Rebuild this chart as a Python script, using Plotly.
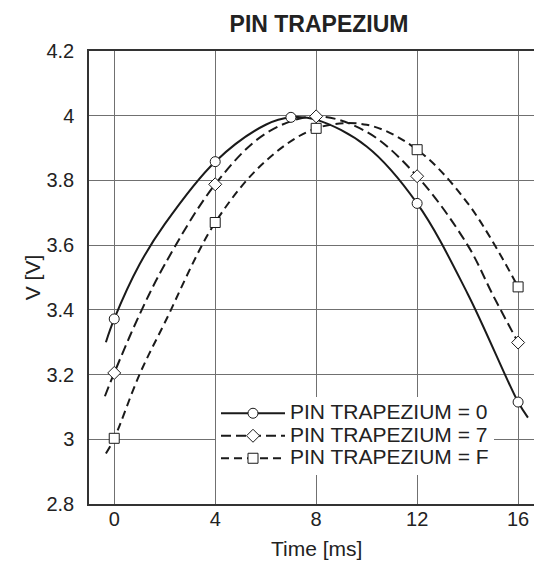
import plotly.graph_objects as go

# Measured points (markers)
pt_x0 = [0, 4, 7, 12, 16]
pt_y0 = [3.372, 3.858, 3.995, 3.729, 3.115]
pt_x7 = [0, 4, 8, 12, 16]
pt_y7 = [3.205, 3.788, 3.998, 3.813, 3.299]
pt_xF = [0, 4, 8, 12, 16]
pt_yF = [3.003, 3.670, 3.961, 3.895, 3.471]

# Curve points
cv_x0 = [-0.33, 0, 1, 2, 4, 6, 7, 8, 10, 12, 14, 16, 16.39]
cv_y0 = [3.300, 3.372, 3.540, 3.665, 3.858, 3.972, 3.995, 3.988, 3.905, 3.729, 3.450, 3.115, 3.067]
cv_x7 = [-0.37, 0, 1, 2, 4, 6, 8, 10, 12, 14, 15, 16]
cv_y7 = [3.133, 3.205, 3.385, 3.540, 3.788, 3.945, 3.998, 3.950, 3.813, 3.600, 3.446, 3.299]
cv_xF = [-0.33, 0, 1, 2, 4, 6, 8, 10, 12, 14, 16]
cv_yF = [2.956, 3.003, 3.200, 3.360, 3.670, 3.860, 3.961, 3.972, 3.895, 3.730, 3.471]

names = ["PIN TRAPEZIUM = 0", "PIN TRAPEZIUM = 7", "PIN TRAPEZIUM = F"]
symbols = ["circle", "diamond", "square"]
dashes = ["solid", "10px,5px", "8px,5px"]

x_ticks = [0, 4, 8, 12, 16]
y_ticks = [2.8, 3, 3.2, 3.4, 3.6, 3.8, 4, 4.2]
y_tick_text = ["2.8", "3", "3.2", "3.4", "3.6", "3.8", "4", "4.2"]

LINE_C = "#1a1a1a"
GRID_C = "#707070"
FONT = "Liberation Sans, Arial, sans-serif"

fig = go.Figure()

curves = [(cv_x0, cv_y0), (cv_x7, cv_y7), (cv_xF, cv_yF)]
points = [(pt_x0, pt_y0), (pt_x7, pt_y7), (pt_xF, pt_yF)]

for (cx, cy), dash in zip(curves, dashes):
    fig.add_trace(go.Scatter(
        x=cx, y=cy, mode="lines", showlegend=False, hoverinfo="skip",
        line=dict(color=LINE_C, width=2, dash=dash, shape="spline", smoothing=1.0),
    ))

msizes = [10, 10, 10]
for (px, py), sym, ms in zip(points, symbols, msizes):
    fig.add_trace(go.Scatter(
        x=px, y=py, mode="markers", showlegend=False,
        marker=dict(symbol=sym, size=ms, color="white",
                    line=dict(color=LINE_C, width=1)),
    ))

for name, sym, dash, ms in zip(names, symbols, dashes, msizes):
    fig.add_trace(go.Scatter(
        x=[None], y=[None], mode="lines+markers",
        name='<span style="font-size:21px">' + name + '</span>',
        line=dict(color=LINE_C, width=2, dash=dash),
        marker=dict(symbol=sym, size=ms, color="white",
                    line=dict(color=LINE_C, width=1)),
    ))

fig.update_layout(
    width=534, height=562,
    margin=dict(l=89, r=0, t=51, b=58),
    paper_bgcolor="white", plot_bgcolor="white",
    font=dict(family=FONT, size=20, color="#222"),
    title=dict(text="<b>PIN TRAPEZIUM</b>", x=(319 - 89) / 445, xref="paper",
               xanchor="center", y=1 - 24 / 562, yanchor="middle",
               font=dict(size=23, color="#222")),
    legend=dict(x=(216 - 89) / 445, xanchor="left", y=(504 - 436) / 453, yanchor="middle",
                bgcolor="white", borderwidth=0, font=dict(size=15, color="#222"),
                itemwidth=64),
    annotations=[dict(text="Time [ms]", x=(316 - 89) / 445, xref="paper",
                      y=(504 - 548) / 453, yref="paper", showarrow=False,
                      xanchor="center", yanchor="middle", font=dict(size=21, color="#222"))],
)

fig.update_xaxes(
    range=[-1.0, 16.63], tickvals=x_ticks, ticktext=[str(v) for v in x_ticks],
    showgrid=True, gridcolor=GRID_C, gridwidth=1, zeroline=False,
    showline=True, linecolor="#333", linewidth=1.5, mirror=True,
    ticks="", ticklabelstandoff=-4, tickfont=dict(size=20), automargin=False,
)
fig.update_yaxes(
    range=[2.8, 4.2], tickvals=y_ticks, ticktext=y_tick_text,
    showgrid=True, gridcolor=GRID_C, gridwidth=1, zeroline=False,
    showline=True, linecolor="#333", linewidth=1.5,
    ticks="", ticklabelstandoff=9, tickfont=dict(size=20), automargin=False,
    title=dict(text="V [V]", font=dict(size=21), standoff=0),
)

fig.write_html("out.html", config={"displayModeBar": False},
               post_script="document.body.style.margin='0';document.body.style.overflow='hidden';")
